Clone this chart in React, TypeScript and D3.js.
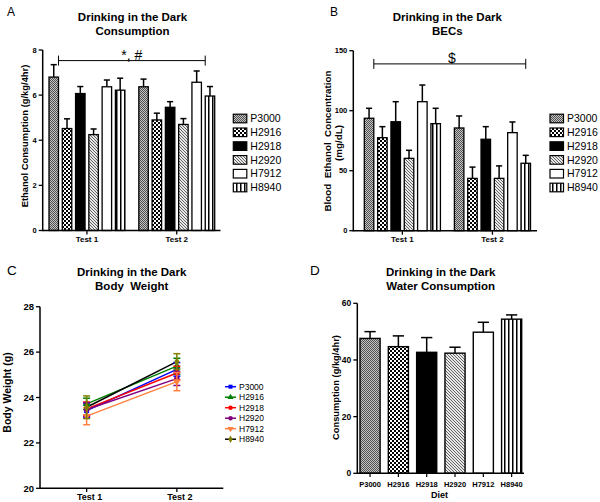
import React from "react";
import * as d3 from "d3";

const series = ["P3000", "H2916", "H2918", "H2920", "H7912", "H8940"];
const tests = ["Test 1", "Test 2"];

// Panel A: ethanol consumption (g/kg/4hr)
const consumptionT1 = [6.8, 4.52, 6.07, 4.25, 6.37, 6.22];
const consumptionT1Sem = [0.55, 0.43, 0.31, 0.25, 0.3, 0.53];
const consumptionT2 = [6.37, 4.9, 5.46, 4.7, 6.57, 5.96];
const consumptionT2Sem = [0.34, 0.3, 0.25, 0.26, 0.5, 0.42];
const consumptionTicks = [0, 2, 4, 6, 8];

// Panel B: BECs (mg/dL)
const becT1 = [93.7, 77.5, 90.8, 60.3, 107.5, 89.2];
const becT1Sem = [8.3, 9.2, 16.7, 6.7, 13.9, 12.8];
const becT2 = [85.6, 43.6, 76.2, 43.6, 81.7, 56.2];
const becT2Sem = [10, 9.4, 10.5, 10.4, 8.9, 6.6];
const becTicks = [0, 50, 100, 150];

// Panel C: body weight (g)
const weightT1 = [23.42, 23.72, 23.5, 23.47, 23.18, 23.57];
const weightT1Sem = [0.3, 0.25, 0.3, 0.3, 0.38, 0.5];
const weightT2 = [25.24, 25.38, 25.08, 24.83, 24.7, 25.58];
const weightT2Sem = [0.3, 0.35, 0.3, 0.3, 0.4, 0.35];
const weightTicks = [20, 22, 24, 26, 28];

// Panel D: water consumption (g/kg/4hr)
const water = [47.6, 44.7, 42.7, 42.4, 49.8, 54.4];
const waterSem = [2.4, 3.8, 5.2, 2.1, 3.5, 1.5];
const waterTicks = [0, 20, 40, 60];

const FONT = "'Liberation Sans', Arial, Helvetica, sans-serif";
const fills = ["url(#pP3000)", "url(#pH2916)", "#000", "url(#pH2920)", "#fff", "url(#pH8940)"];
const lineColors = ["#0000ff", "#008000", "#ff0000", "#800080", "#ff8040", "#000000"];
const markerColors = ["#0000ff", "#008000", "#ff0000", "#800080", "#ff8040", "#808000"];
const markerTypes = [d3.symbolSquare, d3.symbolTriangle, d3.symbolCircle, d3.symbolCircle, d3.symbolTriangle, d3.symbolDiamond];
const markerRot = [0, 0, 0, 0, 180, 0];

function Title({ x, y, lines }: { x: number; y: number; lines: string[] }) {
  return (
    <text x={x} y={y} textAnchor="middle" fontFamily={FONT} fontWeight="bold" fontSize={11.5} fill="#000">
      {lines.map((l, i) => (
        <tspan key={i} x={x} dy={i === 0 ? 0 : 14} style={{ whiteSpace: "pre" }}>
          {l}
        </tspan>
      ))}
    </text>
  );
}

function YAxis({ x, y, ticks, fontSize }: { x: number; y: d3.ScaleLinear<number, number>; ticks: number[]; fontSize: number }) {
  const r = y.range();
  return (
    <g>
      <line x1={x} x2={x} y1={r[1]} y2={r[0] + 0.7} stroke="#000" strokeWidth={1.5} />
      {ticks.map((t) => (
        <g key={t}>
          <line x1={x - 4} x2={x} y1={y(t)} y2={y(t)} stroke="#000" strokeWidth={1.3} />
          <text x={x - 6} y={y(t)} dy="0.35em" textAnchor="end" fontFamily={FONT} fontWeight="bold" fontSize={fontSize}>
            {t}
          </text>
        </g>
      ))}
    </g>
  );
}

interface GPProps {
  x0: number;
  x1: number;
  yTop: number;
  yBot: number;
  domain: [number, number];
  ticks: number[];
  band: [number, number];
  means: number[][];
  sems: number[][];
  bracketY: number;
  bracketRightCenter: boolean;
  sigText: string;
  sigDx: number;
  legendX: number;
}

function GroupedPanel(p: GPProps) {
  const y = d3.scaleLinear().domain(p.domain).range([p.yBot, p.yTop]);
  const gx = d3.scaleBand<string>().domain(tests).range(p.band).paddingInner(0.155);
  const sx = d3.scaleBand<string>().domain(series).range([0, gx.bandwidth()]).paddingInner(0.286);
  const bw = sx.bandwidth();
  const bl = (gx(tests[0]) as number) + (sx(series[0]) as number) + bw;
  const br = p.bracketRightCenter
    ? (gx(tests[1]) as number) + (sx(series[5]) as number) + bw / 2
    : (gx(tests[1]) as number) + (sx(series[5]) as number);
  const by = y(p.bracketY);
  return (
    <g>
      {tests.map((t, ti) =>
        series.map((s, si) => {
          const m = p.means[ti][si];
          const e = p.sems[ti][si];
          const bx = (gx(t) as number) + (sx(s) as number);
          const cx = bx + bw / 2;
          return (
            <g key={t + s}>
              <line x1={cx} x2={cx} y1={y(m)} y2={y(m + e)} stroke="#000" strokeWidth={1.5} />
              <line x1={cx - bw * 0.32} x2={cx + bw * 0.32} y1={y(m + e)} y2={y(m + e)} stroke="#000" strokeWidth={1.5} />
              <rect x={bx} y={y(m)} width={bw} height={p.yBot - y(m)} fill={fills[si]} stroke="#000" strokeWidth={1.3} />
            </g>
          );
        })
      )}
      <YAxis x={p.x0} y={y} ticks={p.ticks} fontSize={7.5} />
      <line x1={p.x0} x2={p.x1} y1={p.yBot} y2={p.yBot} stroke="#000" strokeWidth={1.5} />
      {tests.map((t) => {
        const c = (gx(t) as number) + gx.bandwidth() / 2;
        return (
          <g key={t}>
            <line x1={c} x2={c} y1={p.yBot} y2={p.yBot + 4} stroke="#000" strokeWidth={1.3} />
            <text x={c} y={p.yBot + 11} textAnchor="middle" fontFamily={FONT} fontWeight="bold" fontSize={8}>
              {t}
            </text>
          </g>
        );
      })}
      <line x1={bl} x2={br} y1={by} y2={by} stroke="#000" strokeWidth={1} />
      <line x1={bl} x2={bl} y1={by - 5} y2={by + 5} stroke="#000" strokeWidth={1} />
      <line x1={br} x2={br} y1={by - 5} y2={by + 5} stroke="#000" strokeWidth={1} />
      <text x={(bl + br) / 2 + p.sigDx} y={by - 1} textAnchor="middle" fontFamily={FONT} fontSize={14}>
        {p.sigText}
      </text>
      {series.map((s, si) => {
        const ly = 118.5 + si * 13.8;
        return (
          <g key={s}>
            <rect x={p.legendX} y={ly - 4.3} width={13.5} height={8.6} fill={fills[si]} stroke="#000" strokeWidth={1.2} />
            <text x={p.legendX + 17} y={ly} dy="0.36em" fontFamily={FONT} fontSize={10.5}>
              {s}
            </text>
          </g>
        );
      })}
    </g>
  );
}

function WeightPanel() {
  const y = d3.scaleLinear().domain([20, 28]).range([488.3, 306.7]);
  const x = d3.scalePoint<string>().domain(tests).range([41.5, 222]).padding(0.5);
  const means = [weightT1, weightT2];
  const sems = [weightT1Sem, weightT2Sem];
  const line = d3
    .line<number>()
    .x((_, i) => x(tests[i]) as number)
    .y((d) => y(d));
  const sym = (i: number) => d3.symbol().type(markerTypes[i]).size(i === 1 || i === 4 ? 26 : 24)() as string;
  return (
    <g>
      {series.map((s, si) => (
        <path key={s} d={line([weightT1[si], weightT2[si]]) as string} fill="none" stroke={lineColors[si]} strokeWidth={1.5} />
      ))}
      {series.map((s, si) =>
        tests.map((t, ti) => {
          const cx = x(t) as number;
          const m = means[ti][si];
          const e = sems[ti][si];
          return (
            <g key={s + t}>
              <line x1={cx} x2={cx} y1={y(m - e)} y2={y(m + e)} stroke={markerColors[si]} strokeWidth={1.5} />
              <line x1={cx - 3.5} x2={cx + 3.5} y1={y(m - e)} y2={y(m - e)} stroke={markerColors[si]} strokeWidth={1.5} />
              <line x1={cx - 3.5} x2={cx + 3.5} y1={y(m + e)} y2={y(m + e)} stroke={markerColors[si]} strokeWidth={1.5} />
              <path d={sym(si)} transform={`translate(${cx},${y(m)}) rotate(${markerRot[si]})`} fill={markerColors[si]} />
            </g>
          );
        })
      )}
      <YAxis x={40} y={y} ticks={weightTicks} fontSize={9.5} />
      <line x1={40} x2={223.3} y1={488.3} y2={488.3} stroke="#000" strokeWidth={1.5} />
      {tests.map((t) => (
        <g key={t}>
          <line x1={x(t) as number} x2={x(t) as number} y1={488.3} y2={492} stroke="#000" strokeWidth={1.3} />
          <text x={(x(t) as number) + 3} y={499.5} textAnchor="middle" fontFamily={FONT} fontWeight="bold" fontSize={9}>
            {t}
          </text>
        </g>
      ))}
      {series.map((s, si) => {
        const ly = 386.7 + si * 10.5;
        return (
          <g key={s}>
            <line x1={225} x2={236} y1={ly} y2={ly} stroke={lineColors[si]} strokeWidth={1.5} />
            <path d={d3.symbol().type(markerTypes[si]).size(16)() as string} transform={`translate(230.5,${ly}) rotate(${markerRot[si]})`} fill={markerColors[si]} />
            <text x={239} y={ly} dy="0.36em" fontFamily={FONT} fontSize={8.5}>
              {s}
            </text>
          </g>
        );
      })}
    </g>
  );
}

function WaterPanel() {
  const y = d3.scaleLinear().domain([0, 60]).range([473.3, 303.3]);
  const x = d3.scaleBand<string>().domain(series).range([360, 521.7]).paddingInner(0.29);
  const bw = x.bandwidth();
  return (
    <g>
      {series.map((s, si) => {
        const bx = x(s) as number;
        const cx = bx + bw / 2;
        const m = water[si];
        const e = waterSem[si];
        return (
          <g key={s}>
            <line x1={cx} x2={cx} y1={y(m)} y2={y(m + e)} stroke="#000" strokeWidth={1.5} />
            <line x1={cx - bw * 0.28} x2={cx + bw * 0.28} y1={y(m + e)} y2={y(m + e)} stroke="#000" strokeWidth={1.5} />
            <rect x={bx} y={y(m)} width={bw} height={473.3 - y(m)} fill={fills[si]} stroke="#000" strokeWidth={1.4} />
            <line x1={cx} x2={cx} y1={473.3} y2={477} stroke="#000" strokeWidth={1.2} />
            <text x={cx} y={487.3} textAnchor="middle" fontFamily={FONT} fontWeight="bold" fontSize={7.5}>
              {s}
            </text>
          </g>
        );
      })}
      <YAxis x={357.3} y={y} ticks={waterTicks} fontSize={8.5} />
      <line x1={357.3} x2={524} y1={473.3} y2={473.3} stroke="#000" strokeWidth={1.5} />
      <text x={439.5} y={497.7} textAnchor="middle" fontFamily={FONT} fontWeight="bold" fontSize={9}>
        Diet
      </text>
    </g>
  );
}

export default function App() {
  return (
    <svg width={600} height={502} style={{ position: "fixed", left: 0, top: 0, background: "#fff" }}>
      <defs>
        <pattern id="pP3000" width={2} height={2} patternUnits="userSpaceOnUse">
          <rect width={2} height={2} fill="#c4c4c4" />
          <rect width={1} height={1} fill="#505050" />
          <rect x={1} y={1} width={1} height={1} fill="#505050" />
        </pattern>
        <pattern id="pH2916" width={4} height={4} patternUnits="userSpaceOnUse">
          <rect width={4} height={4} fill="#fff" />
          <rect width={2} height={2} fill="#000" />
          <rect x={2} y={2} width={2} height={2} fill="#000" />
        </pattern>
        <pattern id="pH2920" width={3} height={3} patternUnits="userSpaceOnUse">
          <rect width={3} height={3} fill="#e8e8e8" />
          <path d="M-1,-1 L4,4 M-1,2 L1,4 M2,-1 L4,1" stroke="#555" strokeWidth={0.9} />
        </pattern>
        <pattern id="pH8940" width={4} height={4} patternUnits="userSpaceOnUse">
          <rect width={4} height={4} fill="#fff" />
          <rect width={1.5} height={4} fill="#000" />
        </pattern>
      </defs>
      <rect width={600} height={502} fill="#fff" />

      {/* Panel letters */}
      <text x={7} y={16} fontFamily={FONT} fontSize={12}>A</text>
      <text x={330} y={15.5} fontFamily={FONT} fontSize={12}>B</text>
      <text x={7} y={275} fontFamily={FONT} fontSize={13.5}>C</text>
      <text x={310} y={275} fontFamily={FONT} fontSize={13.5}>D</text>

      {/* Titles */}
      <Title x={132.5} y={21} lines={["Drinking in the Dark", "Consumption"]} />
      <Title x={447.3} y={21} lines={["Drinking in the Dark", "BECs"]} />
      <Title x={131.7} y={275.5} lines={["Drinking in the Dark", "Body  Weight"]} />
      <Title x={440.7} y={276} lines={["Drinking in the Dark", "Water Consumption"]} />

      {/* Y axis labels */}
      <text transform="translate(25,136) rotate(-90)" textAnchor="middle" dy="0.35em" fontFamily={FONT} fontWeight="bold" fontSize={9.4}>
        Ethanol Consumption (g/kg/4hr)
      </text>
      <text transform="translate(327.7,141) rotate(-90)" textAnchor="middle" dy="0.35em" fontFamily={FONT} fontWeight="bold" fontSize={9.8} style={{ whiteSpace: "pre" }}>
        Blood  Ethanol  Concentration
      </text>
      <text transform="translate(338.5,143) rotate(-90)" textAnchor="middle" dy="0.35em" fontFamily={FONT} fontWeight="bold" fontSize={9.8}>
        (mg/dL)
      </text>
      <text transform="translate(7.5,392.5) rotate(-90)" textAnchor="middle" dy="0.35em" fontFamily={FONT} fontWeight="bold" fontSize={10.5}>
        Body Weight (g)
      </text>
      <text transform="translate(336,387.5) rotate(-90)" textAnchor="middle" dy="0.35em" fontFamily={FONT} fontWeight="bold" fontSize={9.3}>
        Consumption (g/kg/4hr)
      </text>

      <GroupedPanel
        x0={42.7}
        x1={220.5}
        yTop={50}
        yBot={230.5}
        domain={[0, 8]}
        ticks={consumptionTicks}
        band={[49, 214.7]}
        means={[consumptionT1, consumptionT2]}
        sems={[consumptionT1Sem, consumptionT2Sem]}
        bracketY={7.53}
        bracketRightCenter={false}
        sigText="*, #"
        sigDx={0}
        legendX={233.3}
      />
      <GroupedPanel
        x0={353.3}
        x1={537}
        yTop={50.7}
        yBot={230.7}
        domain={[0, 150]}
        ticks={becTicks}
        band={[364.3, 530.5]}
        means={[becT1, becT2]}
        sems={[becT1Sem, becT2Sem]}
        bracketY={139}
        bracketRightCenter={true}
        sigText="$"
        sigDx={2}
        legendX={550}
      />
      <WeightPanel />
      <WaterPanel />
    </svg>
  );
}
